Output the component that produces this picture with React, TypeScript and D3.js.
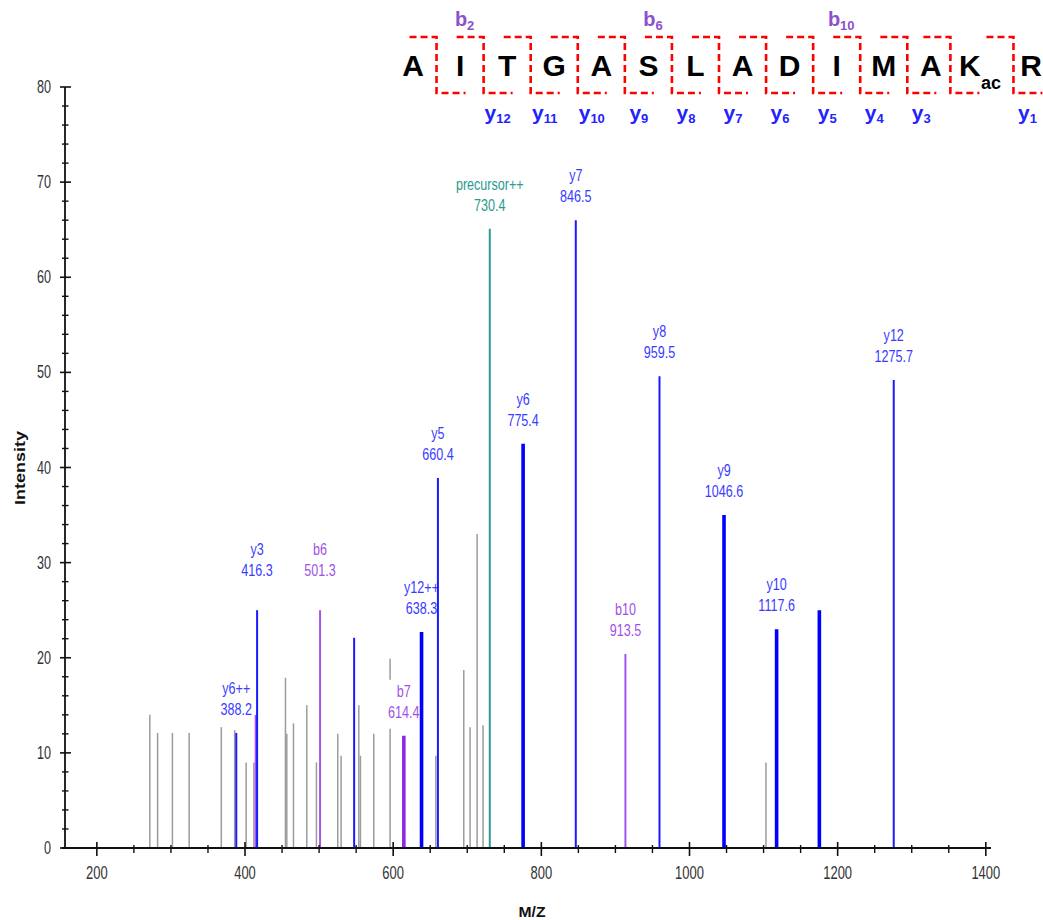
import React from 'react';
import * as d3 from 'd3';

// ---------- data ----------
const residues = ['A', 'I', 'T', 'G', 'A', 'S', 'L', 'A', 'D', 'I', 'M', 'A', 'K', 'R'];
const residueMods = ['', '', '', '', '', '', '', '', '', '', '', '', 'ac', ''];
const bIonsShown = [2, 6, 10];
const yIonsShown = [12, 11, 10, 9, 8, 7, 6, 5, 4, 3, 1];

const xTickValues = [200, 400, 600, 800, 1000, 1200, 1400];
const yTickValues = [0, 10, 20, 30, 40, 50, 60, 70, 80];

// unassigned (grey) peaks
const otherMz = [271.5, 282, 302, 324.6, 368, 386, 401.5, 412, 454.6, 456.4, 465.4, 483.4, 496.4,
  525.2, 529.7, 553.6, 555.8, 573.8, 595.8, 657.6, 695.3, 703.8, 713.3, 721.3, 1103.2];
const otherIntensity = [14.0, 12.1, 12.1, 12.1, 12.7, 12.4, 9.0, 9.0, 17.9, 12.0, 13.1, 15.0, 9.0,
  12.0, 9.7, 15.0, 9.7, 12.0, 19.9, 9.7, 18.7, 12.7, 33.0, 12.9, 9.0];

// assigned peaks
const ionLabel = ['y6++', '', 'y3', 'b6', '', 'b7', 'y12++', 'y5', 'precursor++', 'y6', 'y7', 'b10', 'y8', 'y9', 'y10', '', 'y12'];
const ionSeries = ['y', 'b', 'y', 'b', 'y', 'b', 'y', 'y', 'p', 'y', 'y', 'b', 'y', 'y', 'y', 'y', 'y'];
const ionMz = [388.2, 414.4, 416.3, 501.3, 547.3, 614.4, 638.3, 660.4, 730.4, 775.4, 846.5, 913.5, 959.5, 1046.6, 1117.6, 1175.3, 1275.7];
const ionIntensity = [12.1, 14.0, 25.0, 25.0, 22.1, 11.8, 22.7, 38.9, 65.1, 42.5, 66.0, 20.4, 49.6, 35.0, 23.0, 25.0, 49.2];

// ---------- styles ----------
const boldPeaks = new Set([614.4, 638.3, 775.4, 1046.6, 1117.6, 1175.3]);
const raisedLabels = new Set(['y3', 'b6']);
const lineColor: Record<string, string> = { y: '#1a1aff', b: '#a455f0', p: '#2e9a94', o: '#9c9c9c' };
const boldColor: Record<string, string> = { y: '#0000ff', b: '#8a2be2' };
const labelColor: Record<string, string> = { y: '#3a3aff', b: '#a050e6', p: '#2a9a8e' };
const FONT = "'Liberation Sans', Arial, sans-serif";

function NText(props: any) {
  const { x, y, sx = 0.74, size = 17, anchor = 'middle', fill = '#222', weight = 'normal', children } = props;
  return (
    <text transform={`translate(${x},${y}) scale(${sx},1)`} textAnchor={anchor} fontSize={size}
      fontFamily={FONT} fill={fill} fontWeight={weight}>{children}</text>
  );
}

export default function App() {
  const x = d3.scaleLinear().domain([157, 1407]).range([65, 991]);
  const y = d3.scaleLinear().domain([0, 80]).range([848, 87]);
  const base = y(0);

  type Peak = { mz: number; it: number; s: string; label: string; bold: boolean };
  const peaks: Peak[] = [];
  otherMz.forEach((m, i) => peaks.push({ mz: m, it: otherIntensity[i], s: 'o', label: '', bold: false }));
  ionMz.forEach((m, i) => peaks.push({ mz: m, it: ionIntensity[i], s: ionSeries[i], label: ionLabel[i], bold: boldPeaks.has(m) }));
  peaks.sort((a, b) => a.mz - b.mz);

  const minorY = d3.range(0, 81, 2).filter(v => v % 10 !== 0);
  const minorX = d3.range(200, 1401, 50).filter(v => v % 200 !== 0);

  // sequence header geometry
  const seqX = d3.scalePoint<number>().domain(d3.range(residues.length)).range([413, 1025]);
  const drawX = residues.map((_, i) => {
    let c = seqX(i)!;
    if (residueMods[i]) c -= 8;
    if (i > 0 && residueMods[i - 1]) c += 6;
    return c;
  });
  const gaps = d3.range(residues.length - 1).map(i => (drawX[i] + drawX[i + 1]) / 2 + (residueMods[i] ? 13 : 0));
  const topY = 37, botY = 93;

  return (
    <svg width={1043} height={920} style={{ position: 'absolute', left: 0, top: 0, background: '#fff' }}>
      <rect width={1043} height={920} fill="#fff" />

      {/* peaks with labels */}
      {peaks.map((p, i) => {
        const px = x(p.mz);
        const top = y(p.it);
        const color = p.bold ? boldColor[p.s] : lineColor[p.s];
        const w = p.s === 'o' ? 1.5 : p.bold ? 3.6 : 2;
        const lines = p.label ? [p.label, p.mz.toFixed(1)] : [];
        const maxLen = d3.max(lines, l => l.length) || 0;
        const bw = maxLen * 7.3 + 4;
        const lift = raisedLabels.has(p.label) ? 16 : 0;
        return (
          <g key={i}>
            <line x1={px} x2={px} y1={base} y2={top} stroke={color} strokeWidth={w} />
            {p.label && (
              <g>
                <rect x={px - bw / 2} y={top - 56 - lift} width={bw} height={49} fill="#fff" />
                <NText x={px} y={top - 39 - lift} fill={labelColor[p.s]}>{lines[0]}</NText>
                <NText x={px} y={top - 18 - lift} fill={labelColor[p.s]}>{lines[1]}</NText>
              </g>
            )}
          </g>
        );
      })}

      {/* axes */}
      <line x1={65} x2={65} y1={y(80)} y2={base} stroke="#111" strokeWidth={1.8} />
      <line x1={62} x2={991} y1={base} y2={base} stroke="#111" strokeWidth={1.8} />
      {yTickValues.map(v => (
        <g key={'yt' + v}>
          <line x1={60} x2={71} y1={y(v)} y2={y(v)} stroke="#111" strokeWidth={1.6} />
          <NText x={51} y={y(v) + 6} anchor="end" size={18} sx={0.7} fill="#333">{v}</NText>
        </g>
      ))}
      {minorY.map(v => (
        <line key={'ym' + v} x1={62} x2={68.5} y1={y(v)} y2={y(v)} stroke="#111" strokeWidth={1.4} />
      ))}
      {xTickValues.map(v => (
        <g key={'xt' + v}>
          <line x1={x(v)} x2={x(v)} y1={base - 6} y2={base + 8} stroke="#111" strokeWidth={1.6} />
          <NText x={x(v)} y={base + 31} size={18} sx={0.72} fill="#333">{v}</NText>
        </g>
      ))}
      {minorX.map(v => (
        <line key={'xm' + v} x1={x(v)} x2={x(v)} y1={base - 3} y2={base + 5} stroke="#111" strokeWidth={1.4} />
      ))}
      <text transform="translate(25,468) rotate(-90)" textAnchor="middle" fontSize={15} fontWeight="bold"
        fontFamily={FONT} fill="#111" textLength={74} lengthAdjust="spacingAndGlyphs">Intensity</text>
      <text x={532} y={917} textAnchor="middle" fontSize={15} fontWeight="bold" fontFamily={FONT} fill="#111"
        textLength={27} lengthAdjust="spacingAndGlyphs">M/Z</text>

      {/* sequence header */}
      {gaps.map((g, i) => (
        <path key={'br' + i} d={`M${g - 27},${topY}H${g}V${botY}H${g + 29}`} fill="none" stroke="#ff0000"
          strokeWidth={2.6} strokeDasharray="7,4" />
      ))}
      {residues.map((r, i) => (
        <text key={'res' + i} x={drawX[i]} y={76} textAnchor="middle" fontSize={30} fontWeight="bold"
          fontFamily={FONT} fill="#000">{r}</text>
      ))}
      {residues.map((r, i) => residueMods[i] ? (
        <text key={'mod' + i} x={drawX[i] + 11} y={89} fontSize={18} fontWeight="bold" fontFamily={FONT} fill="#000">{residueMods[i]}</text>
      ) : null)}
      {bIonsShown.map(n => (
        <text key={'b' + n} x={gaps[n - 1] - 19} y={26} textAnchor="middle" fontSize={20} fontWeight="bold"
          fontFamily={FONT} fill="#8c50cc">b<tspan fontSize={13} dy={4}>{n}</tspan></text>
      ))}
      {yIonsShown.map(n => (
        <text key={'y' + n} x={gaps[residues.length - n - 1] + 14} y={120} textAnchor="middle" fontSize={21} fontWeight="bold"
          fontFamily={FONT} fill="#2323ff">y<tspan fontSize={13} dy={3}>{n}</tspan></text>
      ))}
    </svg>
  );
}
